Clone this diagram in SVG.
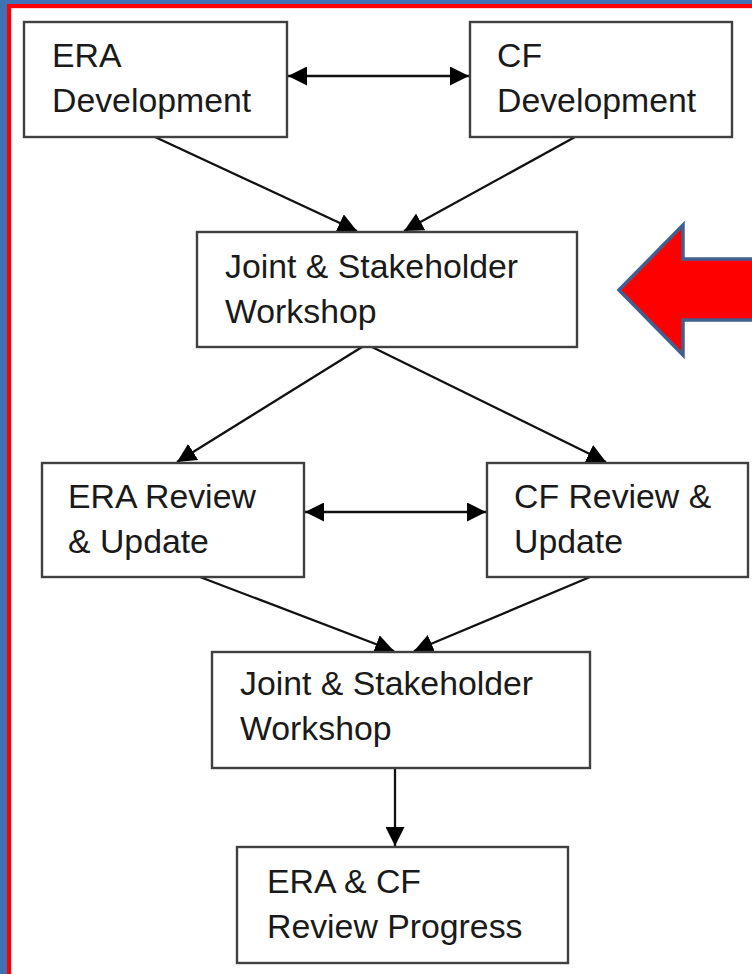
<svg xmlns="http://www.w3.org/2000/svg" width="752" height="974" viewBox="0 0 752 974">
<defs>
<style>
.box{fill:#fff;stroke:#404040;stroke-width:2.4}
.t{font-family:"Liberation Sans",Arial,sans-serif;font-size:33.8px;fill:#1a1a1a}
.c{stroke:#111;stroke-width:2.3;fill:none;marker-end:url(#ah)}
.d{stroke:#111;stroke-width:2.3;fill:none;marker-end:url(#ah);marker-start:url(#ah)}
</style>
<marker id="ah" viewBox="0 0 18 18" refX="18" refY="9" markerWidth="19" markerHeight="19" markerUnits="userSpaceOnUse" orient="auto-start-reverse">
<path d="M0,0 L18,9 L0,18 z" fill="#000"/>
</marker>
</defs>
<rect x="0" y="0" width="752" height="974" fill="#3F71B7"/>
<rect x="7" y="4" width="745" height="970" fill="#FF0000"/>
<rect x="11" y="8" width="741" height="966" fill="#FFD6D6"/>
<rect x="12" y="9" width="740" height="965" fill="#fff"/>
<g id="connectors">
<line class="d" x1="288" y1="76" x2="469" y2="76"/>
<line class="c" x1="155" y1="137" x2="357" y2="231"/>
<line class="c" x1="575" y1="137" x2="404" y2="231"/>
<line class="c" x1="362" y1="347" x2="177" y2="462"/>
<line class="c" x1="372" y1="347" x2="606" y2="462"/>
<line class="d" x1="305" y1="512" x2="486" y2="512"/>
<line class="c" x1="200" y1="577" x2="394" y2="651"/>
<line class="c" x1="590" y1="577" x2="414" y2="651"/>
<line class="c" x1="395" y1="768" x2="395" y2="846"/>
</g>
<g id="era-dev">
<rect class="box" x="24" y="22" width="263" height="115"/>
<text class="t" x="52" y="67">ERA</text>
<text class="t" x="52" y="112">Development</text>
</g>
<g id="cf-dev">
<rect class="box" x="470" y="22" width="262" height="115"/>
<text class="t" x="497" y="67">CF</text>
<text class="t" x="497" y="112">Development</text>
</g>
<g id="joint-1">
<rect class="box" x="197" y="232" width="380" height="115"/>
<text class="t" x="225" y="278">Joint &amp; Stakeholder</text>
<text class="t" x="225" y="323">Workshop</text>
</g>
<g id="era-review">
<rect class="box" x="42" y="463" width="262" height="114"/>
<text class="t" x="68" y="508">ERA Review</text>
<text class="t" x="68" y="553">&amp; Update</text>
</g>
<g id="cf-review">
<rect class="box" x="487" y="463" width="261" height="114"/>
<text class="t" x="514" y="508">CF Review &amp;</text>
<text class="t" x="514" y="553">Update</text>
</g>
<g id="joint-2">
<rect class="box" x="212" y="652" width="378" height="116"/>
<text class="t" x="240" y="695">Joint &amp; Stakeholder</text>
<text class="t" x="240" y="740">Workshop</text>
</g>
<g id="era-cf-progress">
<rect class="box" x="237" y="847" width="331" height="116"/>
<text class="t" x="267" y="893">ERA &amp; CF</text>
<text class="t" x="267" y="938">Review Progress</text>
</g>
<g id="red-arrow">
<path d="M619,290 L683,225 L683,259 L760,259 L760,320 L683,320 L683,355 Z" fill="#FF0000" stroke="#41608F" stroke-width="3.5" stroke-linejoin="miter"/>
</g>
</svg>
